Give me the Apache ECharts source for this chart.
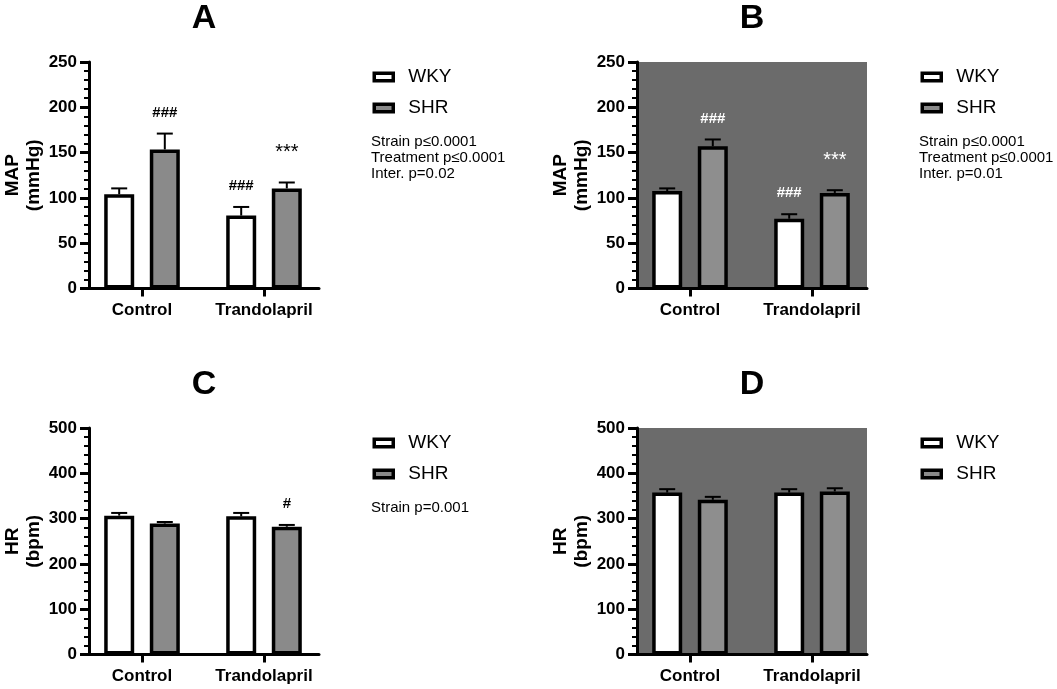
<!DOCTYPE html>
<html>
<head>
<meta charset="utf-8">
<script src="https://cdn.jsdelivr.net/npm/echarts@6/dist/echarts.min.js"></script>
<style>
  html, body { margin: 0; padding: 0; background: #fff; }
  #main { width: 1057px; height: 689px; }
</style>
</head>
<body>
<div id="main"></div>
<script>
var categories = ['Control', 'Trandolapril'];
var groupNames = ['WKY', 'SHR'];

// MAP (mmHg), panel A
var mapA_WKY = [104, 80.5];
var mapA_WKY_sem = [6.5, 9.5];
var mapA_SHR = [153.5, 110.5];
var mapA_SHR_sem = [17.5, 6.5];
var mapA_WKY_marks = ['', '###'];
var mapA_SHR_marks = ['###', '***'];

// MAP (mmHg), panel B
var mapB_WKY = [107.5, 77];
var mapB_WKY_sem = [3, 5];
var mapB_SHR = [157, 105.5];
var mapB_SHR_sem = [7.5, 3];
var mapB_WKY_marks = ['', '###'];
var mapB_SHR_marks = ['###', '***'];

// HR (bpm), panel C
var hrC_WKY = [306.5, 305];
var hrC_WKY_sem = [6, 7.5];
var hrC_SHR = [289, 282];
var hrC_SHR_sem = [3.5, 4];
var hrC_WKY_marks = ['', ''];
var hrC_SHR_marks = ['', '#'];

// HR (bpm), panel D
var hrD_WKY = [357.5, 357.5];
var hrD_WKY_sem = [7.5, 7.5];
var hrD_SHR = [341.5, 360];
var hrD_SHR_sem = [6.5, 7];
var hrD_WKY_marks = ['', ''];
var hrD_SHR_marks = ['', ''];

var mapTicks = [0, 50, 100, 150, 200, 250];
var hrTicks = [0, 100, 200, 300, 400, 500];

var statsA = ['Strain p\u22640.0001', 'Treatment p\u22640.0001', 'Inter. p=0.02'];
var statsB = ['Strain p\u22640.0001', 'Treatment p\u22640.0001', 'Inter. p=0.01'];
var statsC = ['Strain p=0.001'];
var statsD = [];

var FONT = '"Liberation Sans", Arial, sans-serif';
var BAR_W = 30;
var BAR_GAP = 0.52;
var PLOT_W = 230;
var PLOT_H = 226.5;
var SHADE = '#6b6b6b';

var panels = [
  { label: 'A', x: 89, top: 62, shaded: false, ticks: mapTicks, yName: 'MAP\n(mmHg)',
    wky: mapA_WKY, wkySem: mapA_WKY_sem, wkyMarks: mapA_WKY_marks,
    shr: mapA_SHR, shrSem: mapA_SHR_sem, shrMarks: mapA_SHR_marks, stats: statsA },
  { label: 'B', x: 637, top: 62, shaded: true, ticks: mapTicks, yName: 'MAP\n(mmHg)',
    wky: mapB_WKY, wkySem: mapB_WKY_sem, wkyMarks: mapB_WKY_marks,
    shr: mapB_SHR, shrSem: mapB_SHR_sem, shrMarks: mapB_SHR_marks, stats: statsB },
  { label: 'C', x: 89, top: 428, shaded: false, ticks: hrTicks, yName: 'HR\n(bpm)',
    wky: hrC_WKY, wkySem: hrC_WKY_sem, wkyMarks: hrC_WKY_marks,
    shr: hrC_SHR, shrSem: hrC_SHR_sem, shrMarks: hrC_SHR_marks, stats: statsC },
  { label: 'D', x: 637, top: 428, shaded: true, ticks: hrTicks, yName: 'HR\n(bpm)',
    wky: hrD_WKY, wkySem: hrD_WKY_sem, wkyMarks: hrD_WKY_marks,
    shr: hrD_SHR, shrSem: hrD_SHR_sem, shrMarks: hrD_SHR_marks, stats: statsD }
];

// error bar (upper half only) plus the significance mark above it
function errorBars(sem, marks, side, textColor) {
  return function (params, api) {
    var i = api.value(0);
    var mean = api.value(1);
    var base = api.coord([i, mean]);
    var top = api.coord([i, mean + sem[i]]);
    var dx = side * BAR_W * (1 + BAR_GAP) / 2;
    var x = base[0] + dx;
    var children = [
      { type: 'line', shape: { x1: x, y1: base[1], x2: x, y2: top[1] },
        style: { stroke: '#000', lineWidth: 2 } },
      { type: 'line', shape: { x1: x - 8, y1: top[1], x2: x + 8, y2: top[1] },
        style: { stroke: '#000', lineWidth: 2 } }
    ];
    if (marks[i]) {
      // asterisks are set larger and higher than the hash marks
      var star = marks[i].charAt(0) === '*';
      children.push({ type: 'text', style: {
        text: marks[i], x: x, y: top[1] - (star ? 30 : 21),
        align: 'center', verticalAlign: 'middle',
        textAlign: 'center', textVerticalAlign: 'middle',
        fill: textColor, font: (star ? 'normal 20px ' : 'bold 15px ') + FONT } });
    }
    return { type: 'group', children: children };
  };
}

var grids = [], xAxes = [], yAxes = [], series = [], legends = [], graphics = [];

panels.forEach(function (p, k) {
  var yMin = p.ticks[0];
  var yMax = p.ticks[p.ticks.length - 1];
  var step = p.ticks[1] - p.ticks[0];
  var frame = 2 * k, data = 2 * k + 1;

  grids.push({ left: p.x, top: p.top, width: PLOT_W, height: PLOT_H,
    show: p.shaded, backgroundColor: SHADE, borderWidth: 0 });
  grids.push({ left: p.x - 8, top: p.top, width: PLOT_W + 14, height: PLOT_H });

  xAxes.push({ type: 'category', gridIndex: frame, data: categories,
    axisLine: { lineStyle: { color: '#000', width: 3 } },
    axisTick: { show: false }, axisLabel: { show: false }, splitLine: { show: false } });
  xAxes.push({ type: 'category', gridIndex: data, data: categories,
    axisLine: { show: false },
    axisTick: { show: true, interval: 0, alignWithLabel: true, length: 8, lineStyle: { color: '#000', width: 3 } },
    axisLabel: { interval: 0, hideOverlap: false, color: '#000', fontFamily: FONT, fontWeight: 'bold', fontSize: 17, margin: 13 },
    splitLine: { show: false } });

  yAxes.push({ type: 'value', gridIndex: frame, min: yMin, max: yMax, interval: step,
    name: p.yName, nameLocation: 'middle', nameRotate: 90, nameGap: 44,
    nameTextStyle: { color: '#000', fontFamily: FONT, fontWeight: 'bold', fontSize: 19, lineHeight: 21 },
    axisLine: { show: true, lineStyle: { color: '#000', width: 3 } },
    axisTick: { show: true, length: 9, lineStyle: { color: '#000', width: 3 } },
    minorTick: { show: true, splitNumber: 5, length: 5, lineStyle: { color: '#000', width: 2 } },
    axisLabel: { color: '#000', fontFamily: FONT, fontWeight: 'bold', fontSize: 17, margin: 12 },
    splitLine: { show: false } });
  yAxes.push({ type: 'value', gridIndex: data, min: yMin, max: yMax, interval: step, show: false });

  var shrColor = p.shaded ? '#8e8e8e' : '#8a8a8a';
  var textColor = p.shaded ? '#fff' : '#000';

  series.push({ name: groupNames[0], type: 'bar', xAxisIndex: data, yAxisIndex: data,
    barWidth: BAR_W, barGap: (BAR_GAP * 100) + '%', data: p.wky,
    itemStyle: { color: '#fff', borderColor: '#000', borderWidth: 3.5 }, silent: true });
  series.push({ name: groupNames[1], type: 'bar', xAxisIndex: data, yAxisIndex: data,
    barWidth: BAR_W, data: p.shr,
    itemStyle: { color: shrColor, borderColor: '#000', borderWidth: 3.5 }, silent: true });

  series.push({ name: 'err ' + groupNames[0], type: 'custom', xAxisIndex: data, yAxisIndex: data, z: 3,
    renderItem: errorBars(p.wkySem, p.wkyMarks, -1, textColor),
    data: p.wky.map(function (v, i) { return [i, v]; }), silent: true });
  series.push({ name: 'err ' + groupNames[1], type: 'custom', xAxisIndex: data, yAxisIndex: data, z: 3,
    renderItem: errorBars(p.shrSem, p.shrMarks, 1, textColor),
    data: p.shr.map(function (v, i) { return [i, v]; }), silent: true });

  legends.push({ data: groupNames, orient: 'vertical', left: p.x + 283.5, top: p.top + 5,
    padding: 0, itemWidth: 19, itemHeight: 7.5, itemGap: 11, selectedMode: false, icon: 'rect',
    itemStyle: { borderColor: '#000', borderWidth: 3.5 },
    textStyle: { color: '#000', fontFamily: FONT, fontSize: 19, lineHeight: 20, padding: [0, 0, 0, 10] } });

  graphics.push({ type: 'text', x: p.x + PLOT_W / 2, y: p.top - 43.5,
    style: { text: p.label, fill: '#000', font: 'bold 34px ' + FONT,
      align: 'center', verticalAlign: 'middle', textAlign: 'center', textVerticalAlign: 'middle' } });
  if (p.stats.length) {
    graphics.push({ type: 'text', x: p.x + 282, y: p.top + 72,
      style: { text: p.stats.join('\n'), fill: '#000', fontFamily: FONT, fontSize: 15, lineHeight: 16,
        align: 'left', verticalAlign: 'top', textAlign: 'left', textVerticalAlign: 'top' } });
  }
});

var chart = echarts.init(document.getElementById('main'), null, { renderer: 'canvas' });
chart.setOption({
  backgroundColor: '#fff',
  animation: false,
  grid: grids,
  xAxis: xAxes,
  yAxis: yAxes,
  legend: legends,
  series: series,
  graphic: graphics
});
</script>
</body>
</html>
